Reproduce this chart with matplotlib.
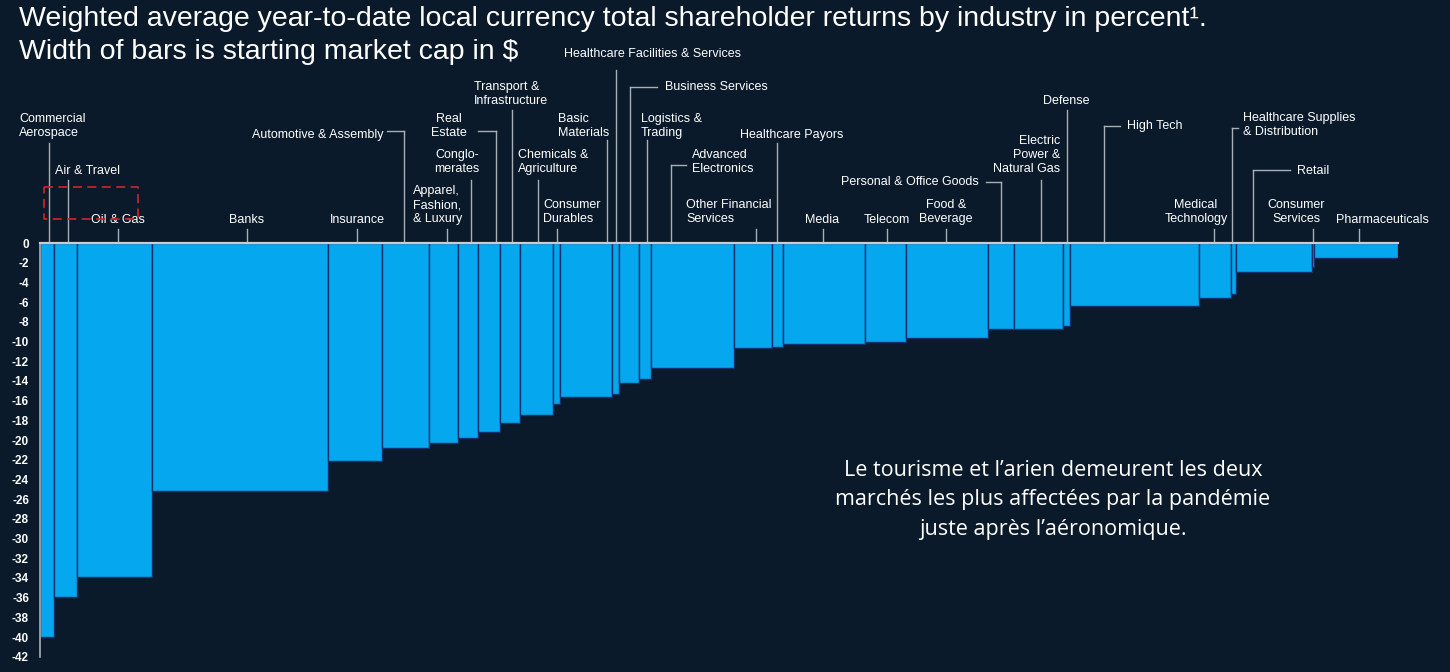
import matplotlib
matplotlib.use("Agg")
import matplotlib.pyplot as plt
import numpy as np

# ---------------- data ----------------
industries = [
    "Commercial\nAerospace", "Air & Travel", "Oil & Gas", "Banks", "Insurance",
    "Automotive & Assembly", "Apparel,\nFashion,\n& Luxury", "Conglo-\nmerates",
    "Real\nEstate", "Transport &\nInfrastructure", "Chemicals &\nAgriculture",
    "Consumer\nDurables", "Basic\nMaterials", "Healthcare Facilities & Services",
    "Business Services", "Logistics &\nTrading", "Advanced\nElectronics",
    "Other Financial\nServices", "Healthcare Payors", "Media", "Telecom",
    "Food &\nBeverage", "Personal & Office Goods", "Electric\nPower &\nNatural Gas",
    "Defense", "High Tech", "Medical\nTechnology",
    "Healthcare Supplies\n& Distribution", "Retail", "Consumer\nServices",
    "Pharmaceuticals",
]
# relative starting market cap (bar widths)
market_cap = [14, 23, 75, 176, 54, 47, 29, 20, 22, 20, 33, 7, 52, 7, 20, 12,
              83, 38, 11, 82, 41, 82, 26, 49, 7, 129, 32, 5, 76, 2, 84]
# YTD total shareholder returns, %
tsr = [-40.0, -35.9, -33.9, -25.2, -22.1, -20.8, -20.3, -19.8, -19.2, -18.3,
       -17.5, -16.3, -15.6, -15.3, -14.2, -13.8, -12.7, -10.7, -10.6, -10.3,
       -10.0, -9.6, -8.7, -8.7, -8.4, -6.4, -5.6, -5.2, -2.9, -2.4, -1.5]
y_ticks = list(range(0, -44, -2))

title_1 = "Weighted average year-to-date local currency total shareholder returns by industry in percent\u00b9."
title_2 = "Width of bars is starting market cap in $"
note = ("Le tourisme et l\u2019arien demeurent les deux\n"
        "marchés les plus affectées par la pandémie\n"
        "juste après l\u2019aéronomique.")

# ---------------- layout (pixels) ----------------
# (text x, text center y, ha, leader x, leader top y, elbow start x or None)
label_layout = [
    (19, 126, "left", 49, 143, None), (55, 171, "left", 68, 180, None),
    (118, 220, "center", 118, 229, None), (247, 220, "center", 247, 229, None),
    (357, 220, "center", 357, 229, None), (383, 135, "right", 404, 131, 387),
    (413, 205, "left", 447, 229, None), (457, 162, "center", 471, 180, None),
    (449, 126, "center", 496, 131, 478), (474, 94, "left", 512, 110, None),
    (518, 162, "left", 538, 180, None), (543, 212, "left", 557, 229, None),
    (558, 126, "left", 607, 140, None), (564, 54, "left", 616, 70, None),
    (665, 87, "left", 630, 87, 657), (641, 126, "left", 647, 140, None),
    (692, 162, "left", 671, 165, 686), (686, 212, "left", 756, 229, None),
    (740, 135, "left", 777, 143, None), (822, 220, "center", 823, 229, None),
    (887, 220, "center", 887, 229, None), (946, 212, "center", 946, 229, None),
    (979, 182, "right", 1001, 182, 986), (1060, 155, "right", 1041, 180, None),
    (1066, 101, "center", 1067, 110, None), (1127, 126, "left", 1104, 126, 1120),
    (1196, 212, "center", 1214, 229, None), (1243, 125, "left", 1232, 128, 1238),
    (1329, 171, "right", 1253, 170, 1290), (1296, 212, "center", 1313, 229, None),
    (1382, 220, "center", 1359, 229, None),
]

BG = "#0a1a2a"
BAR = "#05a7ef"
EDGE = "#15306a"
LINE = "#a9afb6"

W, H = 1450, 672
fig = plt.figure(figsize=(W / 100, H / 100), dpi=100, facecolor=BG)

X0, X1 = 40, 1398          # px of plot left/right
Y0 = 243                   # px of zero line
PPU = 9.85                 # px per percent
YMIN = -42.2
ax = fig.add_axes([X0 / W, 1 - (Y0 + (-YMIN) * PPU) / H, (X1 - X0) / W, (-YMIN) * PPU / H])
ax.set_facecolor(BG)

widths = np.array(market_cap, dtype=float)
lefts = np.concatenate([[0], np.cumsum(widths)[:-1]])
total = widths.sum()
ax.bar(lefts, tsr, width=widths, align="edge", color=BAR, edgecolor=EDGE, linewidth=1.0, zorder=2)

ax.set_xlim(0, total)
ax.set_ylim(YMIN, 0)
for s in ax.spines.values():
    s.set_visible(False)
ax.set_xticks([])
ax.set_yticks(y_ticks)
ax.set_yticklabels([str(t) for t in y_ticks], color="white", fontsize=8.5,
                   fontweight="bold", family="Liberation Sans")
ax.tick_params(axis="y", length=0, pad=8)
ax.plot([0, 0], [0, -42], color=LINE, lw=1.2, zorder=3, clip_on=False)
ax.plot([0, total], [0, 0], color="#c9cdd2", lw=1.6, zorder=4, clip_on=False)

xs = total / (X1 - X0)  # data units per px in x


def px2x(px):
    return (px - X0) * xs


def px2y(py):
    return (Y0 - py) / PPU


for name, (tx, ty, ha, lx, top, ex) in zip(industries, label_layout):
    ax.text(px2x(tx), px2y(ty), name, ha=ha, va="center", color="white",
            fontsize=9, family="Liberation Sans", linespacing=1.25,
            clip_on=False, zorder=5)
    ax.plot([px2x(lx), px2x(lx)], [px2y(top), 0], color=LINE, lw=1.0,
            clip_on=False, zorder=1)
    if ex is not None:
        ax.plot([px2x(ex), px2x(lx)], [px2y(top), px2y(top)], color=LINE,
                lw=1.0, clip_on=False, zorder=1)

# red dashed highlight box
ax.plot([px2x(44), px2x(138), px2x(138), px2x(44), px2x(44)],
        [px2y(187), px2y(187), px2y(219), px2y(219), px2y(187)],
        color="#c4222c", lw=1.3, ls=(0, (5, 3)), clip_on=False, zorder=6)

fig.text(19 / W, 1 - 19 / H, title_1, color="white", fontsize=20.5,
         family="Liberation Sans", ha="left", va="center")
fig.text(19 / W, 1 - 52 / H, title_2, color="white", fontsize=20.5,
         family="Liberation Sans", ha="left", va="center")

fig.text(1053 / W, 1 - 500 / H, note, color="white", fontsize=15.5,
         family="Open Sans", ha="center", va="center", linespacing=1.5)

fig.savefig("out.png", dpi=100, facecolor=BG)
